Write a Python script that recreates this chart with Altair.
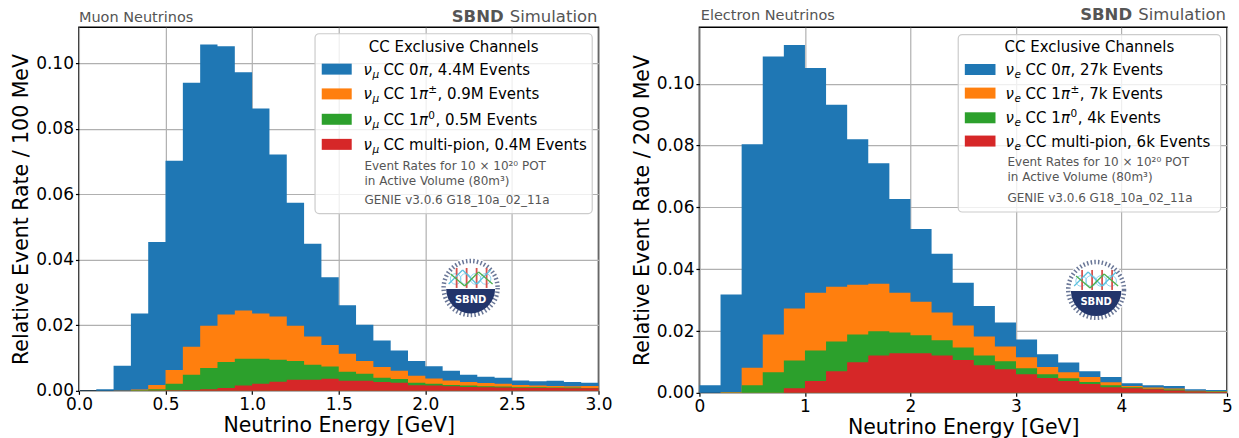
import math
import altair as alt
import pandas as pd

# ---------------- data ----------------
CHANNELS = ["0pi", "1pic", "1pi0", "multi"]
COLORS = ["#1f77b4", "#ff7f0e", "#2ca02c", "#d62728"]

mu_edges = [0.0, 0.1, 0.2, 0.3, 0.4, 0.5, 0.6, 0.7, 0.8, 0.9, 1.0, 1.1, 1.2, 1.3, 1.4, 1.5,
            1.6, 1.7, 1.8, 1.9, 2.0, 2.1, 2.2, 2.3, 2.4, 2.5, 2.6, 2.7, 2.8, 2.9, 3.0]
mu_0pi = [.0001, .0005, .0076, .0232, .0436, .0638, .0805, .0858, .0819, .0727, .0626, .0494, .0375, .0283, .0207,
          .0148, .0111, .0081, .0062, .0045, .0037, .0029, .0022, .0019, .0018, .0014, .0013, .0016, .0013, .0010]
mu_1pic = [0, 0, .0001, .0002, .0013, .0042, .0086, .0129, .0145, .0147, .0138, .0132, .0108, .0086, .0066,
           .0055, .0039, .0033, .0025, .0021, .0016, .0014, .0011, .0010, .0009, .0007, .0005, .0005, .0004, .0006]
mu_1pi0 = [0, 0, 0, .0002, .0004, .0020, .0046, .0065, .0079, .0082, .0076, .0067, .0057, .0046, .0037,
           .0027, .0021, .0013, .0011, .0008, .0006, .0004, .0004, .0003, .0003, .0002, .0002, .0001, .0002, .0001]
mu_multi = [0, 0, 0, 0, .0001, .0002, .0003, .0005, .0009, .0016, .0022, .0028, .0034, .0034, .0037,
            .0031, .0031, .0027, .0025, .0017, .0016, .0014, .0012, .0011, .0010, .0009, .0009, .0009, .0008, .0008]
mu_counts = ["4.4M", "0.9M", "0.5M", "0.4M"]

e_edges = [0.0, 0.2, 0.4, 0.6, 0.8, 1.0, 1.2, 1.4, 1.6, 1.8, 2.0, 2.2, 2.4, 2.6, 2.8, 3.0,
           3.2, 3.4, 3.6, 3.8, 4.0, 4.2, 4.4, 4.6, 4.8, 5.0]
e_0pi = [.0025, .0315, .0723, .0899, .0852, .0727, .0589, .0470, .0390, .0303, .0235, .0190, .0138,
         .0099, .0078, .0058, .0041, .0031, .0019, .0017, .0009, .0008, .0008, .0005, .0004]
e_1pic = [0, .0002, .0056, .0122, .0168, .0187, .0177, .0161, .0154, .0129, .0109, .0090, .0071,
          .0061, .0048, .0035, .0024, .0020, .0016, .0009, .0004, .0004, .0003, .0002, .0001]
e_1pi0 = [0, .0001, .0025, .0067, .0090, .0099, .0096, .0090, .0078, .0067, .0058, .0049, .0041,
          .0032, .0026, .0020, .0012, .0009, .0006, .0007, .0003, .0001, .0003, .0001, .0001]
e_multi = [0, 0, 0, 0, .0015, .0038, .0070, .0099, .0121, .0128, .0128, .0121, .0106,
           .0089, .0076, .0060, .0048, .0038, .0029, .0018, .0015, .0012, .0008, .0004, .0003]
e_counts = ["27k", "7k", "4k", "6k"]

y_ticks = [0.0, 0.02, 0.04, 0.06, 0.08, 0.10]
mu_x_ticks = [0.0, 0.5, 1.0, 1.5, 2.0, 2.5, 3.0]
e_x_ticks = [0, 1, 2, 3, 4, 5]

FONT = "DejaVu Sans"
GREY = "#555555"
one = pd.DataFrame({"k": [0]})


def txt(x, y, s, size, color="black", align="left", weight="normal", style="normal", baseline="alphabetic"):
    return alt.Chart(one).mark_text(
        text=s, fontSize=size, color=color, align=align, baseline=baseline,
        fontWeight=weight, fontStyle=style, font=FONT
    ).encode(x=alt.value(x), y=alt.value(y))


def rect(x1, x2, y1, y2, **kw):
    return alt.Chart(one).mark_rect(**kw).encode(
        x=alt.value(x1), x2=alt.value(x2), y=alt.value(y1), y2=alt.value(y2))


def rule(x1, y1, x2, y2, color, w):
    return alt.Chart(one).mark_rule(color=color, strokeWidth=w).encode(
        x=alt.value(x1), x2=alt.value(x2), y=alt.value(y1), y2=alt.value(y2))


def logo(cx, cy, r):
    L = []
    L.append(alt.Chart(one).mark_circle(size=math.pi * r * r, color="white", opacity=1)
             .encode(x=alt.value(cx), y=alt.value(cy)))
    rr = r - 3.5
    L.append(alt.Chart(one).mark_point(shape="circle", size=math.pi * rr * rr, filled=False,
                                       stroke="#6a7797", strokeWidth=4.5, strokeDash=[1.5, 2.2], opacity=1)
             .encode(x=alt.value(cx), y=alt.value(cy)))
    L.append(alt.Chart(one).mark_arc(theta=math.pi / 2, theta2=3 * math.pi / 2, radius=r * 0.72,
                                     color="#22356b")
             .encode(x=alt.value(cx), y=alt.value(cy + 1)))
    # lattice of the emblem
    for dx in (-15, -5, 5, 15):
        L.append(alt.Chart(one).mark_point(shape="circle", size=math.pi * 36, filled=False,
                                           stroke="#8fd3ee", strokeWidth=1, opacity=1)
                 .encode(x=alt.value(cx + dx), y=alt.value(cy - 9)))
    for dx in (-14, -4, 6, 16):
        L.append(rule(cx + dx, cy - 20, cx + dx, cy, "#d9534f", 1.8))
    L.append(rule(cx - 22, cy - 4, cx - 8, cy - 18, "#5bc0de", 1.3))
    L.append(rule(cx - 8, cy - 18, cx + 6, cy - 4, "#5bc0de", 1.3))
    L.append(rule(cx + 6, cy - 4, cx + 20, cy - 18, "#5bc0de", 1.3))
    L.append(rule(cx - 20, cy - 14, cx - 6, cy - 2, "#4cae4c", 1.3))
    L.append(rule(cx - 6, cy - 2, cx + 8, cy - 16, "#4cae4c", 1.3))
    L.append(rule(cx + 8, cy - 16, cx + 22, cy - 4, "#4cae4c", 1.3))
    L.append(txt(cx, cy + 15, "SBND", 10, color="white", align="center", weight="bold"))
    return L


def legend(P, sub, counts):
    L = []
    bx1, by1, bx2, by2 = P["box"]
    L.append(rect(bx1, bx2, by1, by2, fill="white", fillOpacity=0.8, stroke="#cccccc",
                  strokeWidth=1.2, cornerRadius=4))
    L.append(txt((bx1 + bx2) / 2, P["title_y"], "CC Exclusive Channels", 15, align="center"))
    for k, (c, col) in enumerate(zip(P["rows"], COLORS)):
        L.append(rect(P["px1"], P["px2"], c - 5.5, c + 5.5, fill=col))
        base = c + 5.5
        nx = P["nu_x"]
        L.append(txt(nx, base, "ν", 15, style="italic"))
        L.append(txt(nx + 9, base + 3, sub, 10.5, style="italic"))
        cc = nx + 20
        if k == 3:
            L.append(txt(cc, base, "CC multi-pion, " + counts[3] + " Events", 15))
            continue
        L.append(txt(cc, base, "CC " + ("0" if k == 0 else "1"), 15))
        L.append(txt(cc + 35.6, base, "π", 15, style="italic"))
        if k == 0:
            L.append(txt(cc + 45, base, ", " + counts[0] + " Events", 15))
        else:
            L.append(txt(cc + 45, base - 6, "±" if k == 1 else "0", 10.5))
            L.append(txt(cc + (54.2 if k == 1 else 52.2), base, ", " + counts[k] + " Events", 15))
    nx = P["note_x"]
    n1, n2, n3 = P["notes"]
    L.append(txt(nx, n1, "Event Rates for 10 × 10²⁰ POT", 12, color=GREY))
    L.append(txt(nx, n2, "in Active Volume (80m³)", 12, color=GREY))
    L.append(txt(nx, n3, "GENIE v3.0.6 G18_10a_02_11a", 12, color=GREY))
    return L


def panel(edges, series, counts, W, H, ymax, xticks, xfmt, ytitle, name, sub, P, logo_c, hdr_y):
    xenc = alt.X("x:Q", scale=alt.Scale(domain=[edges[0], edges[-1]], nice=False, zero=False),
                 axis=alt.Axis(values=xticks, format=xfmt, title="Neutrino Energy [GeV]",
                               grid=True, gridColor="#b0b0b0", gridWidth=1.2, domain=False,
                               tickColor="black", tickSize=3.5, tickWidth=1.2,
                               labelFontSize=17, labelColor="black", labelFont=FONT, labelPadding=2,
                               labelFlush=False, labelOverlap=False,
                               titleFontSize=20.5, titleFontWeight="normal", titleColor="black",
                               titleFont=FONT, titlePadding=3))
    yenc = alt.Y("y:Q", stack=None, scale=alt.Scale(domain=[0, ymax], nice=False),
                 axis=alt.Axis(values=y_ticks, format=".2f", title=ytitle,
                               grid=True, gridColor="#b0b0b0", gridWidth=1.2, domain=False,
                               tickColor="black", tickSize=3.5, tickWidth=1.2,
                               labelFontSize=17, labelColor="black", labelFont=FONT, labelPadding=2,
                               labelFlush=False, labelOverlap=False,
                               titleFontSize=20.5, titleFontWeight="normal", titleColor="black",
                               titleFont=FONT, titlePadding=4))
    # stacked histogram: each layer is drawn from 0 up to its cumulative top
    n = len(edges) - 1
    layers = []
    for k in range(len(series)):
        tops = [sum(s[i] for s in series[k:]) for i in range(n)]
        df = pd.DataFrame({"x": edges, "y": tops + [tops[-1]]})
        layers.append(alt.Chart(df).mark_area(interpolate="step-after", color=COLORS[k], opacity=1)
                      .encode(x=xenc, y=yenc))
    layers += logo(logo_c[0], logo_c[1], logo_c[2])
    layers += legend(P, sub, counts)
    layers.append(txt(P["name_x"], hdr_y, name, 14.5, color=GREY))
    layers.append(txt(W - 1, hdr_y, "Simulation", 16.5, color=GREY, align="right"))
    layers.append(txt(W - 95, hdr_y, "SBND", 16.5, color=GREY, align="right", weight="bold"))
    return alt.layer(*layers).properties(width=W, height=H)


P_mu = dict(box=(236.3, 6.6, 513.7, 186.6), title_y=25, px1=243, px2=273,
            rows=[42, 66.8, 92.2, 117.3], nu_x=284.7, note_x=285.7,
            notes=(142.6, 157.6, 177.3), name_x=0)
P_e = dict(box=(259, 7.4, 521.6, 185), title_y=25, px1=265.6, px2=296.3,
           rows=[42.4, 66.0, 90.7, 114.0], nu_x=306.3, note_x=308.3,
           notes=(139.4, 154.4, 175), name_x=1.3)

left = panel(mu_edges, [mu_0pi, mu_1pic, mu_1pi0, mu_multi], mu_counts, 520, 364, 0.111,
             mu_x_ticks, ".1f", "Relative Event Rate / 100 MeV", "Muon Neutrinos", "μ",
             P_mu, (392, 261, 34), -5)
right = panel(e_edges, [e_0pi, e_1pic, e_1pi0, e_multi], e_counts, 528, 366, 0.1183,
              e_x_ticks, "d", "Relative Event Rate / 200 MeV", "Electron Neutrinos", "e",
              P_e, (397, 263, 35), -7)

chart = alt.hconcat(left, right, spacing=101, bounds="flush").properties(
    padding={"left": 10, "top": 6, "right": 5, "bottom": 2},
    background="white",
).configure_view(stroke="black", strokeWidth=1.5)

chart.save("out.html", embed_options={"renderer": "svg", "actions": False})
